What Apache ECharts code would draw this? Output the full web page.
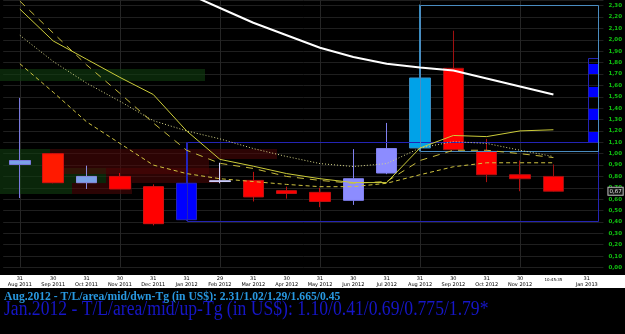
<!DOCTYPE html>
<html><head><meta charset="utf-8">
<script src="https://cdn.jsdelivr.net/npm/echarts@6/dist/echarts.min.js"></script>
<style>html,body{margin:0;padding:0;background:#000}#c{width:625px;height:334px}</style>
</head><body><div id="c"></div>
<script>
// ---- data ----
const dayLabels = ['31','30','31','30','31','31','29','31','30','31','30','31','31','30','31','30','','31'];
const monthLabels = ['Aug 2011','Sep 2011','Oct 2011','Nov 2011','Dec 2011','Jan 2012','Feb 2012','Mar 2012','Apr 2012','May 2012','Jun 2012','Jul 2012','Aug 2012','Sep 2012','Oct 2012','Nov 2012','10:45:35','Jan 2013'];
// [open, close, low, high]
const ohlc = [
  [0.905, 0.94, 0.61, 1.49],
  [1.00, 0.745, 0.74, 1.005],
  [0.745, 0.80, 0.69, 0.895],
  [0.80, 0.69, 0.69, 0.83],
  [0.71, 0.385, 0.37, 0.73],
  [0.42, 0.74, 0.41, 1.10],
  [0.755, 0.762, 0.74, 0.92],
  [0.765, 0.62, 0.58, 0.84],
  [0.675, 0.65, 0.605, 0.71],
  [0.66, 0.58, 0.53, 0.70],
  [0.59, 0.78, 0.55, 1.04],
  [0.83, 1.045, 0.82, 1.27],
  [1.05, 1.665, 1.02, 2.31],
  [1.75, 1.035, 1.03, 2.08],
  [1.02, 0.815, 0.75, 1.13],
  [0.815, 0.78, 0.67, 0.94],
  [0.80, 0.67, 0.665, 0.905],
  '-'
];
const whiteLine = ['-','-','-','-','-',2.41,2.28,2.15,2.04,1.93,1.85,1.79,1.756,1.73,1.66,1.59,1.52,'-'];
const solidLine = [2.27,1.99,1.83,1.67,1.52,1.20,0.95,0.89,0.825,0.78,0.746,0.746,1.05,1.16,1.15,1.20,1.21,'-'];
const dottedLine = [2.04,1.81,1.62,1.46,1.29,1.20,1.13,1.045,0.975,0.913,0.887,0.913,1.05,1.106,1.09,1.03,0.975,'-'];
const shortDashLine = [1.79,1.54,1.28,1.09,0.90,0.825,0.78,0.755,0.73,0.71,0.71,0.74,0.815,0.885,0.92,0.92,0.92,'-'];
const longDashLine = [2.34,2.06,1.78,1.53,1.27,1.03,0.915,0.87,0.80,0.765,0.74,0.755,0.94,1.03,1.03,1.00,0.966,'-'];
// zones: [fromIndex, toIndex, low, high]
const greenZones = [[-0.6,5.55,1.64,1.74],[-0.6,0.9,0.65,1.045],[0.9,2.57,0.746,0.87],[0.9,1.55,0.65,0.746]];
const redZones = [[0.9,7.7,0.95,1.045],[0.9,5.67,0.82,0.95],[2.57,6.03,0.746,0.87],[1.55,3.37,0.65,0.746]];
// boxes: [fromIndex, toIndex, low, high]
const augBox = [[12,17.35,1.02,2.31]];
const janBox = [[5,17.35,0.41,1.10],[17.03,17.35,1.10,1.84]];
const targetSquares = [[17.06,17.33,1.70,1.79],[17.06,17.33,1.50,1.59],[17.06,17.33,1.30,1.39],[17.06,17.33,1.10,1.19]];
const yTicks = {min:0, max:2.35, interval:0.1};
const text1 = 'Aug.2012 - T/L/area/mid/dwn-Tg (in US$): 2.31/1.02/1.29/1.665/0.45';
const text2 = 'Jan.2012 - T/L/area/mid/up-Tg (in US$): 1.10/0.41/0.69/0.775/1.79*';

// ---- styles ----
const bodyColors = ['#7ba3e8','#ff1a00','#7ba3e8','#ff0000','#ff0000','#0000ff','#c4c0f4','#ff0000','#ff0000','#ff0000','#8c8cff','#8c8cff','#00a2e8','#ff0000','#ff0000','#ff0000','#ff0000'];
const wickColors = ['#7a7ade','#d01010','#8a8ae0','#d01010','#d01010','#2222c0','#d0d0ff','#c01010','#c01010','#c01010','#8080f0','#8080f0','#3a8cc0','#a01010','#b01010','#b01010','#a01010'];

const categories = monthLabels.map((m, i) => dayLabels[i] ? dayLabels[i] + '\n' + m : m);
const candleData = ohlc.map((d, i) => d === '-' ? '-' : {
  value: d,
  itemStyle: {color: bodyColors[i], color0: bodyColors[i], borderColor: wickColors[i], borderColor0: wickColors[i], borderWidth: 1}
});

function rectSeries(data, fill, stroke, z) {
  return {
    type: 'custom', xAxisIndex: 1, yAxisIndex: 0, z: z, silent: true,
    dimensions: ['x0','x1','y0','y1'], encode: {x: [0,1], y: [2,3]},
    data: data,
    renderItem: function (params, api) {
      const p0 = api.coord([api.value(0), api.value(3)]);
      const p1 = api.coord([api.value(1), api.value(2)]);
      let x = Math.round(p0[0]), y = Math.round(p0[1]);
      let w = Math.round(p1[0]) - x, h = Math.round(p1[1]) - y;
      if (stroke) { x += 0.5; y += 0.5; }
      return {type: 'rect', shape: {x: x, y: y, width: w, height: h},
        style: stroke ? {fill: 'none', stroke: stroke, lineWidth: 1} : {fill: fill}};
    }
  };
}
function lineSeries(data, color, type, width, z) {
  return {type: 'line', data: data, xAxisIndex: 0, z: z, symbol: 'none', silent: true,
    lineStyle: {color: color, width: width, type: type}, connectNulls: false};
}

const chart = echarts.init(document.getElementById('c'), null, {renderer: 'canvas'});
const lastClose = ohlc[16][1];
chart.setOption({
  backgroundColor: '#000',
  animation: false,
  grid: {left: 3.2, right: 17, top: 0, bottom: 66.5},
  xAxis: [
    {type: 'category', data: categories, boundaryGap: true,
      axisLine: {show: false}, axisTick: {show: false},
      axisLabel: {show: false},
      splitLine: {show: true, alignWithLabel: true, lineStyle: {color: '#252525', width: 1}}},
    {type: 'value', min: -0.5, max: 17.5, show: false, splitLine: {show: false}},
    {type: 'category', data: categories, boundaryGap: true, z: 5, position: 'bottom',
      axisLine: {show: false}, axisTick: {show: false}, splitLine: {show: false},
      axisLabel: {interval: 0, color: '#000', fontSize: 5, lineHeight: 6, margin: 8, fontFamily: 'DejaVu Sans',
        formatter: function (v) { return v.indexOf('\n') < 0 ? '{s|' + v + '}' : v; },
        rich: {s: {fontSize: 4, padding: [3, 0, 0, 0], color: '#000', fontFamily: 'DejaVu Sans'}}}}
  ],
  yAxis: {type: 'value', position: 'right', min: yTicks.min, max: yTicks.max, interval: yTicks.interval,
    axisLine: {show: false}, axisTick: {show: false},
    splitLine: {lineStyle: {color: '#1f1f1f', width: 1}},
    axisLabel: {showMaxLabel: false, color: '#10c010', fontSize: 5.5, fontWeight: 'bold', fontFamily: 'DejaVu Sans', margin: 5,
      formatter: function (v) { return v.toFixed(2).replace('.', ','); }}},
  graphic: [
    {type: 'rect', left: 0, top: 275, z: 1, shape: {width: 625, height: 13}, style: {fill: '#ffffff'}},
    {type: 'text', left: 4, top: 291, z: 10, scaleX: 0.97,
      style: {text: text1, fill: '#2898e0', font: 'bold 12px "Liberation Serif", serif'}},
    {type: 'text', left: 4, top: 300, z: 10, scaleX: 0.88,
      style: {text: text2, fill: '#1616c8', font: '20px "Liberation Serif", serif'}}
  ],
  series: [
    rectSeries(greenZones, 'rgba(16,64,16,0.6)', null, 1),
    rectSeries(redZones, 'rgba(80,8,8,0.55)', null, 1),
    {type: 'candlestick', data: candleData, xAxisIndex: 0, barWidth: 21, z: 3, silent: true,
      markLine: {symbol: ['none', 'none'], silent: true, data: [{yAxis: lastClose}],
        lineStyle: {color: 'rgba(0,0,0,0)', width: 0, type: 'solid'},
        label: {show: true, position: 'end', distance: 5, fontSize: 5.5, fontFamily: 'DejaVu Sans', color: '#e0e0e0',
          backgroundColor: '#151515', borderColor: '#c0c0c0', borderWidth: 1, padding: [1, 1, 0, 1],
          formatter: function (p) { return Number(p.value).toFixed(2).replace('.', ','); }}}},
    rectSeries(janBox, null, '#2424b4', 4),
    rectSeries(augBox, null, '#4a8cc0', 4),
    rectSeries(targetSquares, '#0000ff', null, 4),
    lineSeries(longDashLine, '#c8bc3c', [7, 6], 1, 5),
    lineSeries(shortDashLine, '#d0c440', [4, 3], 1, 5),
    lineSeries(dottedLine, '#d8d88a', [1, 2], 1, 5),
    lineSeries(solidLine, '#cccc3a', 'solid', 1, 5),
    lineSeries(whiteLine, '#ffffff', 'solid', 2, 6)
  ]
});
</script></body></html>
